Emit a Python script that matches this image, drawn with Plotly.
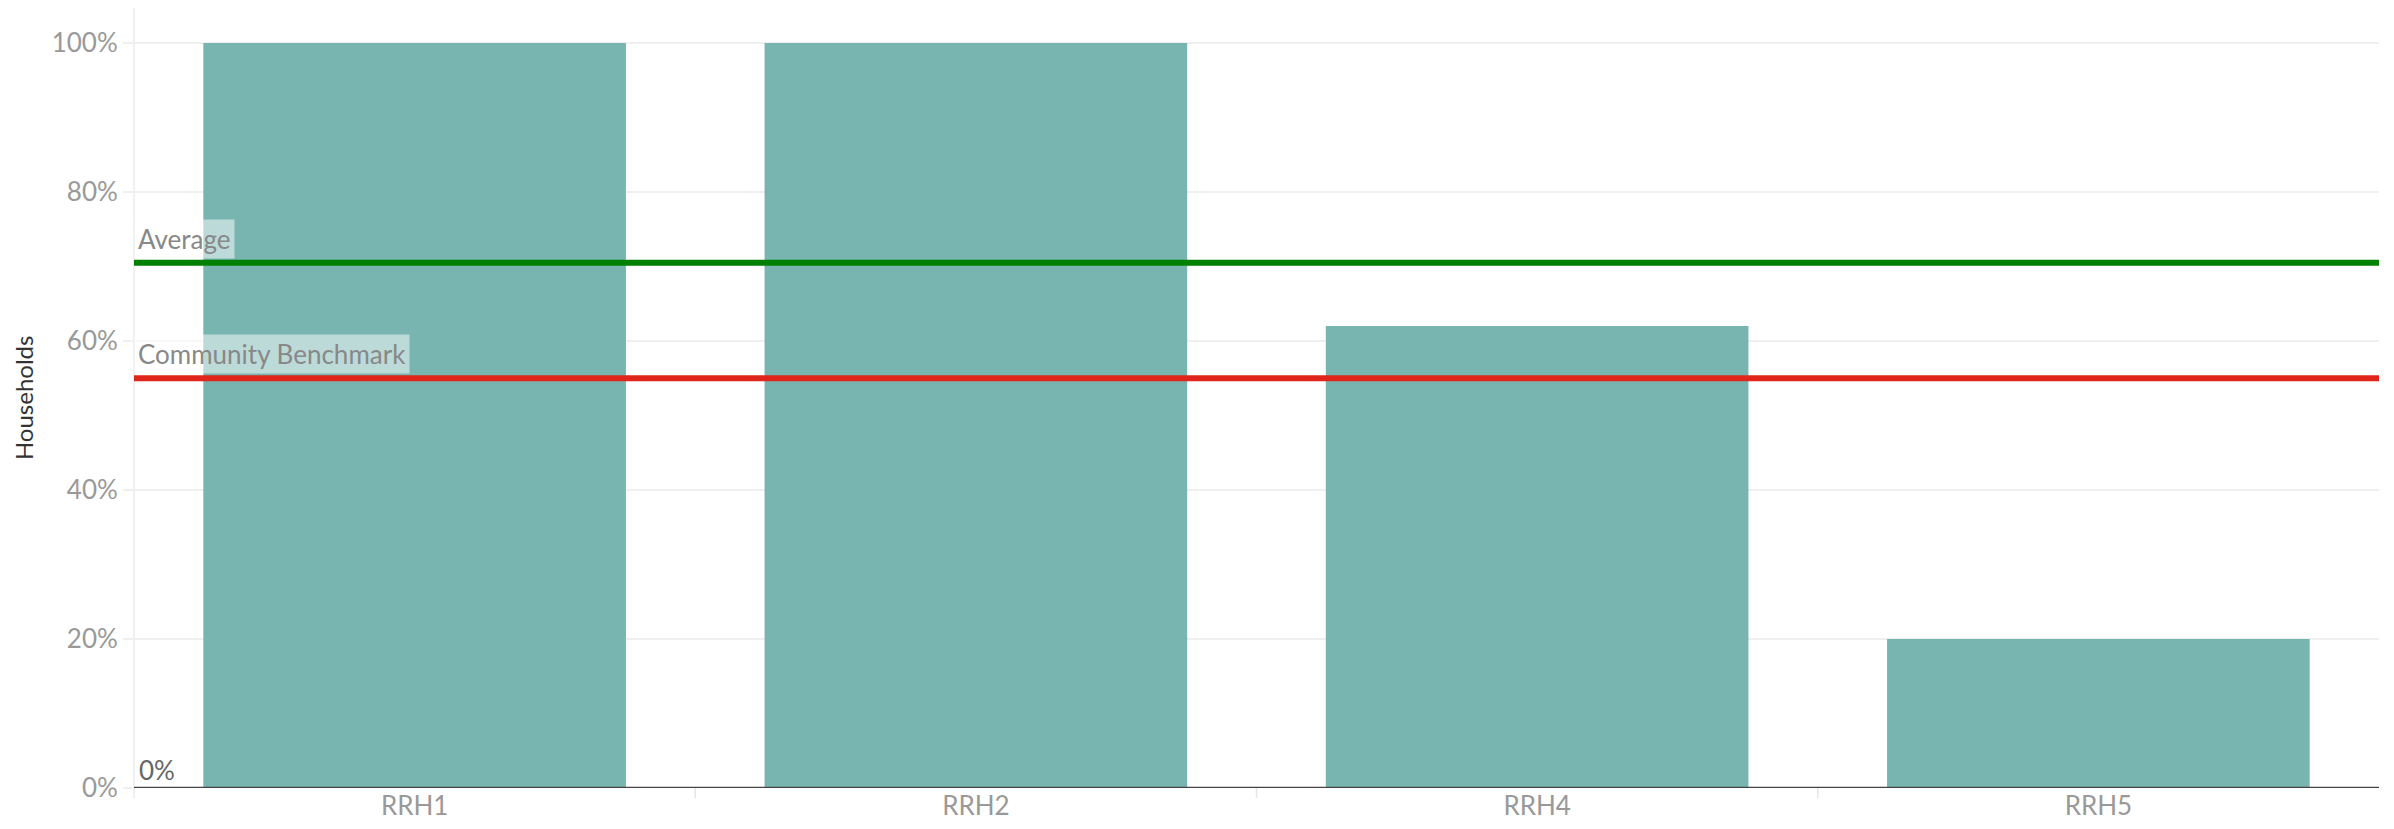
import plotly.graph_objects as go

categories = ["RRH1", "RRH2", "RRH4", "RRH5"]
values = [1.0, 1.0, 0.62, 0.20]
average_value = 0.705
benchmark_value = 0.55
y_ticks = [0, 0.2, 0.4, 0.6, 0.8, 1.0]
y_tick_labels = ["0%", "20%", "40%", "60%", "80%", "100%"]

BAR_COLOR = "#79b5b0"
FONT = "Lato, Open Sans, sans-serif"
FS = 26

fig = go.Figure()
fig.add_trace(go.Bar(
    x=categories, y=values, marker=dict(color=BAR_COLOR, line=dict(width=0)),
    width=0.753, hoverinfo="skip",
))

# reference lines
fig.add_shape(type="line", xref="paper", x0=0, x1=1, yref="y",
              y0=average_value, y1=average_value,
              line=dict(color="#008000", width=6), layer="above")
fig.add_shape(type="line", xref="paper", x0=0, x1=1, yref="y",
              y0=benchmark_value, y1=benchmark_value,
              line=dict(color="#e0261a", width=6), layer="above")

# left axis line
fig.add_shape(type="line", xref="paper", yref="paper", x0=0, x1=0, y0=-0.013, y1=1,
              line=dict(color="#ebebeb", width=1.5), layer="below")
# category separator ticks
for i in range(len(categories) - 1):
    fig.add_shape(type="line", xref="x", yref="paper", x0=i + 0.5, x1=i + 0.5,
                  y0=0, y1=-0.013, line=dict(color="#e6e6e6", width=1.5))
# zero line
fig.add_shape(type="line", xref="paper", yref="y", x0=0, x1=1, y0=0, y1=0,
              line=dict(color="#444444", width=2.5), layer="above")

# labels
for txt, val in [("Average", average_value), ("Community Benchmark", benchmark_value)]:
    fig.add_annotation(xref="paper", yref="y", x=0, y=val, text=txt,
                       xanchor="left", yanchor="bottom", showarrow=False, yshift=4,
                       font=dict(family=FONT, size=FS, color="#888888"),
                       bgcolor="rgba(255,255,255,0.5)", borderpad=3)
fig.add_annotation(xref="paper", yref="y", x=0, y=0, text="0%",
                   xanchor="left", yanchor="bottom", showarrow=False, xshift=3, yshift=0,
                   font=dict(family=FONT, size=FS, color="#666666"))
fig.add_annotation(xref="paper", yref="paper", x=-0.0494, y=0.5, text="Households",
                   textangle=-90, showarrow=False, xanchor="center", yanchor="middle",
                   borderpad=0,
                   font=dict(family=FONT, size=24, color="#333333"))

fig.update_layout(
    width=2378, height=813,
    margin=dict(l=126, r=7, t=0, b=33),
    paper_bgcolor="white", plot_bgcolor="white",
    showlegend=False,
    font=dict(family=FONT),
    xaxis=dict(showgrid=False, showline=False, zeroline=False, ticks="",
               automargin=False,
               tickfont=dict(family=FONT, size=FS, color="#999999"),
               range=[-0.5, 3.5]),
    yaxis=dict(range=[0, 1.047], tickvals=y_ticks, ticktext=y_tick_labels,
               automargin=False,
               showgrid=True, gridcolor="#efefef", gridwidth=1.5,
               zeroline=False, showline=False,
               ticks="outside", ticklen=10, tickcolor="#efefef", tickwidth=1.5,
               tickfont=dict(family=FONT, size=FS, color="#999999")),
)

fig.write_html("out.html")
